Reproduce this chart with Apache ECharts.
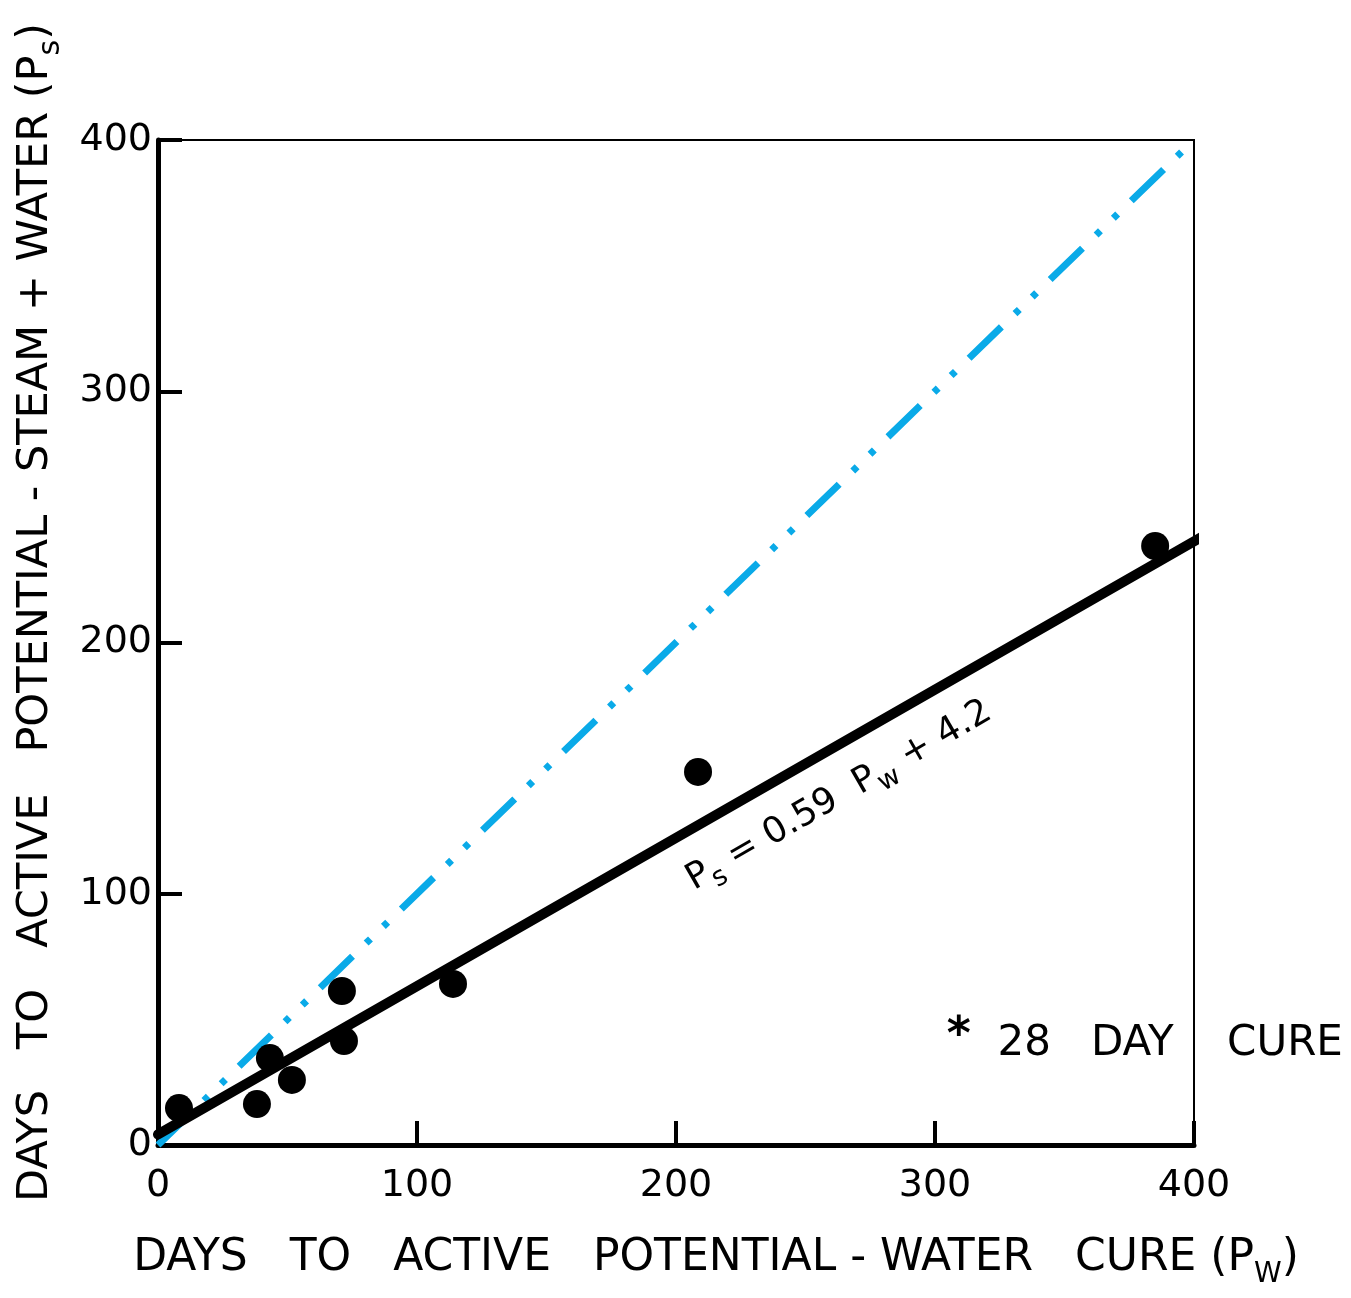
<!DOCTYPE html>
<html>
<head>
<meta charset="utf-8">
<script src="https://cdn.jsdelivr.net/npm/echarts@6/dist/echarts.min.js"></script>
<style>
html,body{margin:0;padding:0;background:#fff;}
#c{width:1351px;height:1298px;}
</style>
</head>
<body>
<div id="c"></div>
<script>
// ---- data ----
var xTicks = [0, 100, 200, 300, 400];
var yTicks = [0, 100, 200, 300, 400];
var pointsPw = [8.1, 38.2, 43.2, 51.7, 71.0, 71.8, 113.9, 208.5, 385.0];
var pointsPs = [14.7, 16.3, 34.6, 25.9, 61.3, 41.4, 64.1, 148.5, 238.4];
var fitLinePw = [0, 405];
var fitLinePs = [4.2, 243.2];
var equalLinePw = [0, 400];
var equalLinePs = [0, 400];
var equationAt = [263, 139];
var noteAt = [381, 40];

var FONT = '"DejaVu Sans", sans-serif';
var chart = echarts.init(document.getElementById('c'), null, {renderer: 'canvas'});

var scatterData = pointsPw.map(function (x, i) { return [x, pointsPs[i]]; });
var fitData = fitLinePw.map(function (x, i) { return [x, fitLinePs[i]]; });
var eqData = equalLinePw.map(function (x, i) { return [x, equalLinePs[i]]; });

chart.setOption({
  animation: false,
  backgroundColor: '#fff',
  grid: {left: 158, top: 140, width: 1036, height: 1005, containLabel: false, outerBoundsMode: 'none',
         show: true, borderColor: '#000', borderWidth: 2, backgroundColor: 'transparent'},
  xAxis: {
    type: 'value', min: xTicks[0], max: xTicks[xTicks.length - 1], interval: 100,
    axisLine: {lineStyle: {color: '#000', width: 5}},
    axisTick: {inside: true, length: 24, lineStyle: {color: '#000', width: 4}},
    splitLine: {show: false},
    axisLabel: {color: '#000', fontSize: 38, fontFamily: FONT, margin: 22},
    name: '{n|DAYS   TO   ACTIVE   POTENTIAL - WATER   CURE (P}{s|W}{n|)}',
    nameLocation: 'middle', nameGap: 84,
    nameTextStyle: {
      padding: [0, 0, 0, 80],
      rich: {
        n: {fontSize: 44, fontFamily: FONT, color: '#000', lineHeight: 60, verticalAlign: 'middle'},
        s: {fontSize: 28, fontFamily: FONT, color: '#000', lineHeight: 60, verticalAlign: 'bottom', padding: [24, 0, 0, 0]}
      }
    }
  },
  yAxis: {
    type: 'value', min: yTicks[0], max: yTicks[yTicks.length - 1], interval: 100,
    axisLine: {lineStyle: {color: '#000', width: 5}},
    axisTick: {inside: true, length: 24, lineStyle: {color: '#000', width: 4}},
    splitLine: {show: false},
    axisLabel: {color: '#000', fontSize: 38, fontFamily: FONT, margin: 6},
    name: '{n|DAYS   TO   ACTIVE   POTENTIAL - STEAM + WATER (P}{s|s}{n|)}',
    nameLocation: 'middle', nameGap: 92,
    nameTextStyle: {
      padding: [0, 0, 0, 60],
      rich: {
        n: {fontSize: 43, fontFamily: FONT, color: '#000', lineHeight: 60, verticalAlign: 'middle'},
        s: {fontSize: 30, fontFamily: FONT, color: '#000', lineHeight: 60, verticalAlign: 'bottom', padding: [20, 0, 0, 0]}
      }
    }
  },
  series: [
    {
      type: 'line', data: eqData, symbol: 'none', silent: true,
      lineStyle: {color: '#0aaae8', width: 7, type: [45, 19, 6, 18, 6, 19], cap: 'butt'},
      z: 2
    },
    {
      type: 'line', data: fitData, symbol: 'none', clip: false, silent: true,
      lineStyle: {color: '#000', width: 10, cap: 'round'},
      z: 3,
      markPoint: {
        symbol: 'circle', symbolSize: 0, silent: true,
        data: [
          {coord: equationAt, label: {show: true, position: 'inside', rotate: 30,
            formatter: '{n|P}{s|s}{n| = 0.59  P}{s|w}{n| + 4.2}',
            rich: {
              n: {fontSize: 36, fontFamily: FONT, color: '#000', lineHeight: 50, verticalAlign: 'middle'},
              s: {fontSize: 27, fontFamily: FONT, color: '#000', lineHeight: 50, verticalAlign: 'bottom', padding: [18, 0, 0, 0]}
            }}},
          {coord: noteAt, label: {show: true, position: 'inside',
            formatter: '{a|*}{n|  28   DAY    CURE}',
            rich: {
              a: {fontSize: 46, fontFamily: FONT, color: '#000', fontWeight: 'bold', verticalAlign: 'top', lineHeight: 60},
              n: {fontSize: 42, fontFamily: FONT, color: '#000', lineHeight: 60, verticalAlign: 'middle'}
            }}}
        ]
      }
    },
    {
      type: 'scatter', data: scatterData, symbol: 'circle', symbolSize: 28,
      itemStyle: {color: '#000', opacity: 1}, z: 4
    }
  ]
});
</script>
</body>
</html>
